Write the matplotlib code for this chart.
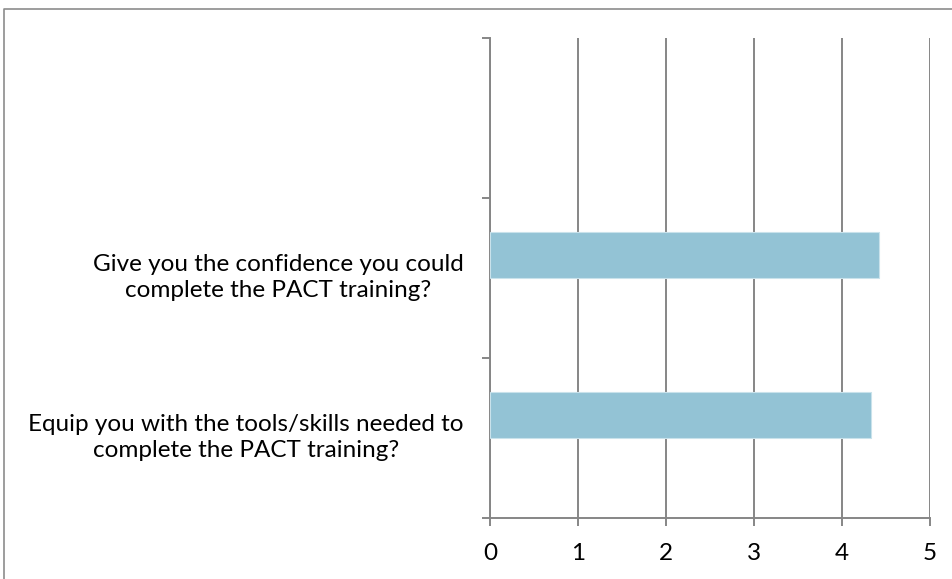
import matplotlib.pyplot as plt
from matplotlib.lines import Line2D

# survey questions, bottom slot first; the top slot stays empty
questions = [
    "Equip you with the tools/skills needed to\ncomplete the PACT training?",
    "Give you the confidence you could\ncomplete the PACT training?",
    "",
]
scores = [4.33, 4.42, None]
x_ticks = [0, 1, 2, 3, 4, 5]

W, H = 953, 579
fig = plt.figure(figsize=(W / 100, H / 100), dpi=100)
plt.rcParams['font.family'] = ['Lato', 'DejaVu Sans']

ax = fig.add_axes([490 / W, (H - 518) / H, (929.7 - 490) / W, (518 - 38) / H])

grey = '#868686'
bar_h = 0.29
offset = 0.145
for i, v in enumerate(scores):
    if v is None:
        continue
    ax.barh(i + offset, v, height=bar_h, color='#93c3d5',
            edgecolor='#c9e2eb', linewidth=0.8, zorder=3)

ax.set_xlim(0, 5)
ax.set_ylim(-0.5, len(questions) - 0.5)
ax.set_xticks(x_ticks)
ax.set_xticklabels([str(t) for t in x_ticks], fontsize=17.5)

# category boundaries carry the tick marks, labels sit at slot centres
ax.set_yticks([i - 0.5 for i in range(len(questions) + 1)])
ax.set_yticklabels([])
ax.set_yticks([i + 0.03 for i in range(len(questions))], minor=True)
ax.set_yticklabels(questions, minor=True, fontsize=17.5)
for t in ax.get_yticklabels(minor=True):
    t.set_multialignment('center')
    t.set_linespacing(1.3)

ax.tick_params(axis='y', which='major', length=6, width=1.4, color=grey)
ax.tick_params(axis='y', which='minor', length=0, pad=19)
ax.tick_params(axis='x', length=6, width=1.4, color=grey, pad=12)

ax.grid(axis='x', color=grey, linewidth=1.4, zorder=0)
ax.set_axisbelow(True)
for side in ['top', 'right']:
    ax.spines[side].set_visible(False)
for side in ['left', 'bottom']:
    ax.spines[side].set_color(grey)
    ax.spines[side].set_linewidth(1.4)

# chart area frame
fig.add_artist(Line2D([4 / W, 4 / W, 1], [0, 1 - 9 / H, 1 - 9 / H],
                      transform=fig.transFigure, color='#8c8c8c', linewidth=1.2))

fig.savefig('out.png', dpi=100)
